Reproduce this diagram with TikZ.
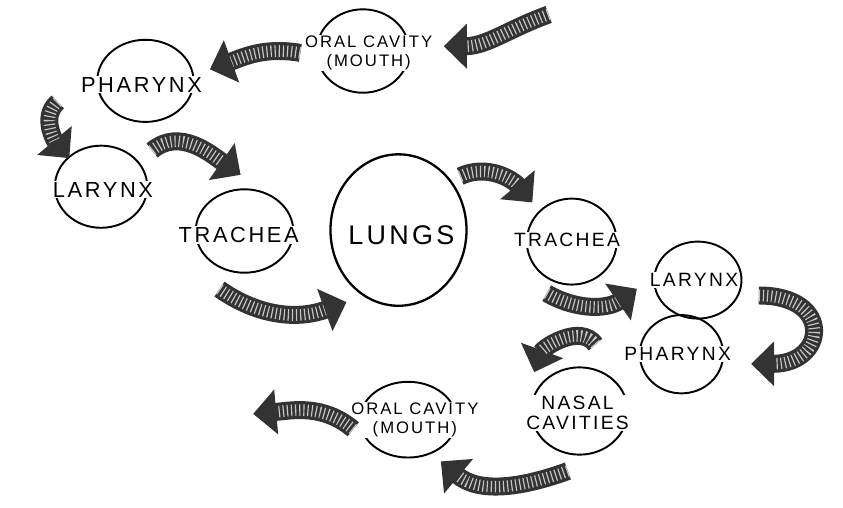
\documentclass[tikz,border=0pt]{standalone}
\usepackage{fontspec}
\setmainfont[LetterSpace=12]{Liberation Sans}
\usetikzlibrary{arrows.meta, shapes.geometric}

\begin{document}
\begin{tikzpicture}[x=0.75pt, y=0.75pt,
    ring/.style={ellipse, draw, line width=1.5pt, inner sep=0pt},
    tag/.style={fill=white, inner sep=1pt, align=center, font=\fontsize{17}{19}\selectfont},
    tagsmall/.style={tag, font=\fontsize{13}{14.5}\selectfont},
    flow/.style={line width=14pt, draw=black!80, -{Triangle[length=18pt, width=34pt]},
        postaction={draw=white!78!black, -, line width=9pt, dash pattern=on 0.9pt off 2.3pt, shorten >=18pt}},
]
\fill[white] (0,0) rectangle (843,-527);

% === Way in (top and left) ===
\node[ring, minimum width=72pt, minimum height=65pt] (oralT) at (377,-53) {};
\node[ring, minimum width=75pt, minimum height=64pt] (pharynxL) at (151,-84) {};
\node[ring, minimum width=72pt, minimum height=64pt] (larynxL) at (105,-194) {};
\node[ring, minimum width=76pt, minimum height=65pt] (tracheaL) at (254,-240) {};
\node[ring, minimum width=106pt, minimum height=118pt, line width=1.8pt] (lungs) at (414,-239) {};

\node[tagsmall] (oralTtxt) at (383,-55) {ORAL CAVITY\\(MOUTH)};
\node[tag] (pharynxLtxt) at (147,-88) {PHARYNX};
\node[tag] (larynxLtxt) at (107,-197) {LARYNX};
\node[tag] (tracheaLtxt) at (248,-244) {TRACHEA};
\node[tag, font=\fontsize{21}{23}\selectfont, fill=none] (lungstxt) at (417,-244) {LUNGS};

% === Way out (right and bottom) ===
\node[ring, minimum width=70pt, minimum height=67pt] (tracheaR) at (594,-251) {};
\node[ring, minimum width=68pt, minimum height=60pt] (larynxR) at (725,-291) {};
\node[ring, minimum width=65pt, minimum height=61pt] (pharynxR) at (708,-368) {};
\node[ring, minimum width=75pt, minimum height=68pt] (nasal) at (602,-427) {};
\node[ring, minimum width=75pt, minimum height=59pt] (oralB) at (424,-436) {};

\node[tag, font=\fontsize{15}{16}\selectfont] (tracheaRtxt) at (589,-249) {TRACHEA};
\node[tag, font=\fontsize{15}{16}\selectfont] (larynxRtxt) at (721,-291) {LARYNX};
\node[tag, font=\fontsize{15}{16}\selectfont] (pharynxRtxt) at (704,-368) {PHARYNX};
\node[tag, font=\fontsize{15}{15.5}\selectfont] (nasaltxt) at (600,-429) {NASAL\\CAVITIES};
\node[tagsmall] (oralBtxt) at (431,-436) {ORAL CAVITY\\(MOUTH)};

\coordinate (inflow) at (570,-15);
\coordinate (outflow) at (263,-430);

% === Arrows ===
\draw[flow] (inflow) to[out=200, in=0] ([shift={(35,5)}]oralT.east);
\draw[flow] ([shift={(-16,-2)}]oralT.west) to[out=170, in=20] ([shift={(16,12)}]pharynxL.east);
\draw[flow] ([shift={(-40,-22)}]pharynxL.west) to[out=220, in=130] ([shift={(-33,-14)}]larynxL.north);
\draw[flow] ([shift={(53,-6)}]larynxL.north) to[out=40, in=145] ([shift={(-4,14)}]tracheaL.north);
\draw[flow] ([shift={(-26,-16)}]tracheaL.south) to[out=-35, in=200] ([shift={(-54,5)}]lungs.south);
\draw[flow] ([shift={(64,-24)}]lungs.north) to[out=25, in=130] ([shift={(-41,-5)}]tracheaR.north);
\draw[flow] ([shift={(-26,-8)}]tracheaR.south) to[out=-30, in=215] ([shift={(-17,-9)}]larynxR.west);
\draw[flow] ([shift={(17,-16)}]larynxR.east) to[out=0, in=0, looseness=2.8] ([shift={(28,-10)}]pharynxR.east);
\draw[flow] ([shift={(-45,10)}]pharynxR.west) to[out=125, in=70] ([shift={(-47,-6)}]nasal.north);
\draw[flow] ([shift={(-12,-16)}]nasal.south) to[out=200, in=-40] ([shift={(34,-3)}]oralB.south);
\draw[flow] ([shift={(-6,-10)}]oralB.west) to[out=140, in=5] (outflow);
\end{tikzpicture}
\end{document}
